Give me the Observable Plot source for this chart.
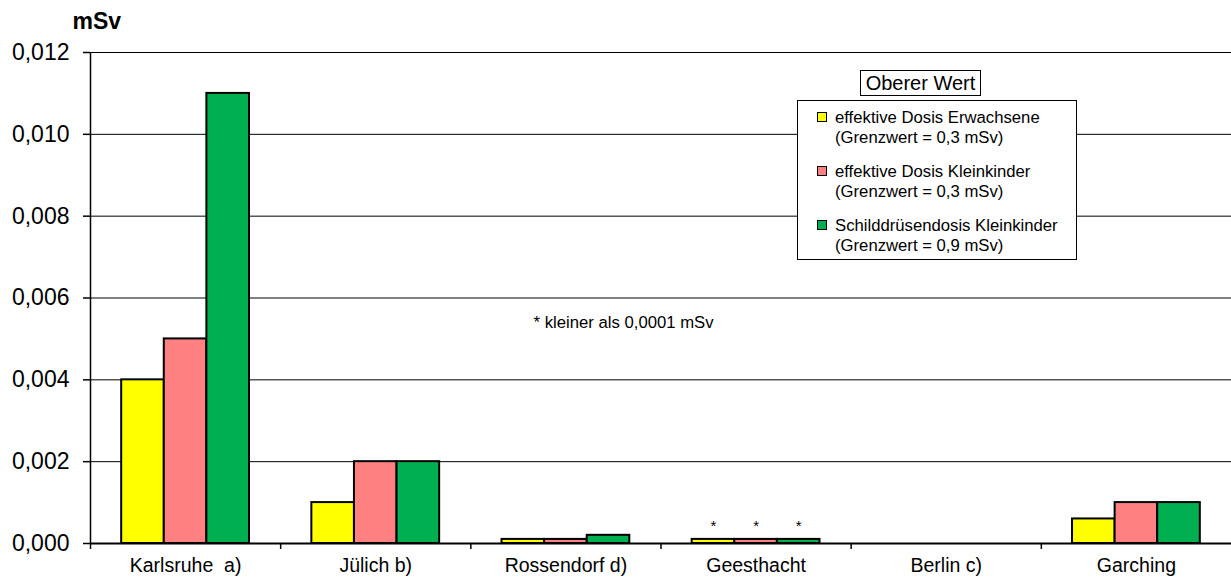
<!DOCTYPE html>
<html>
<head>
<meta charset="utf-8">
<script src="https://cdn.jsdelivr.net/npm/d3@7"></script>
<script src="https://cdn.jsdelivr.net/npm/@observablehq/plot@0.6"></script>
<style>
  html, body { margin: 0; padding: 0; background: white; }
  #wrap { position: relative; width: 1231px; height: 579px; font-family: "Liberation Sans", Arial, sans-serif; }
  svg text { white-space: pre; }
  .legend { position: absolute; left: 797px; top: 100px; width: 280px; height: 160px; border: 1px solid black; background: white; box-sizing: border-box; }
  .legend-title { position: absolute; left: 860px; top: 70px; width: 121px; height: 26px; border: 1px solid black; background: white; box-sizing: border-box; font-size: 20px; line-height: 24px; text-align: center; }
  .entry { position: absolute; left: 19px; font-size: 16.7px; line-height: 20px; }
  .sw { position: absolute; left: 0; top: 4px; width: 8px; height: 8px; border: 1.5px solid black; }
  .lab { margin-left: 18px; white-space: nowrap; }
</style>
</head>
<body>
<div id="wrap"></div>
<script>
// ---- data ----
const categories = ["Karlsruhe  a)", "Jülich b)", "Rossendorf d)", "Geesthacht", "Berlin c)", "Garching"];
const seriesNames = ["effektive Dosis Erwachsene", "effektive Dosis Kleinkinder", "Schilddrüsendosis Kleinkinder"];
const seriesLimits = ["(Grenzwert = 0,3 mSv)", "(Grenzwert = 0,3 mSv)", "(Grenzwert = 0,9 mSv)"];
const seriesColors = ["#FFFF00", "#FF8080", "#00B050"];
const erwachsene   = [0.004, 0.001, 0.0001, 0.0001, 0, 0.0006];
const kleinkinder  = [0.005, 0.002, 0.0001, 0.0001, 0, 0.001];
const schilddruese = [0.011, 0.002, 0.0002, 0.0001, 0, 0.001];
const belowLimit = ["Geesthacht"];
const yTicks = [0, 0.002, 0.004, 0.006, 0.008, 0.010, 0.012];
const legendTitle = "Oberer Wert";
const noteText = "* kleiner als 0,0001 mSv";
const noteX = 1.83, noteY = 0.0054;
const unitLabel = "mSv";

// ---- table ----
const seriesValues = [erwachsene, kleinkinder, schilddruese];
const barW = 0.224;
const table = [];
categories.forEach((c, i) => {
  seriesValues.forEach((vals, j) => {
    const x1 = i + (j - 1.5) * barW;
    table.push({category: c, series: seriesNames[j], x1, x2: x1 + barW, value: vals[i], color: seriesColors[j]});
  });
});

const font = "'Liberation Sans', Arial, sans-serif";
const fmt = v => d3.format(".3f")(v).replace(".", ",");
const n = categories.length;

const chart = Plot.plot({
  width: 1231,
  height: 579,
  marginLeft: 90,
  marginRight: 0,
  marginTop: 52,
  marginBottom: 36,
  style: {fontFamily: font, background: "white", color: "black", overflow: "visible"},
  x: {type: "linear", domain: [-0.5, n - 0.5]},
  y: {domain: [0, 0.012]},
  color: {type: "identity"},
  marks: [
    Plot.gridY({ticks: yTicks, stroke: "black", strokeOpacity: 1, strokeWidth: 1}),
    Plot.ruleX([-0.5], {y1: 0, y2: 0.012, stroke: "black", strokeWidth: 1.5}),
    Plot.rect(table.filter(d => d.value > 0), {x1: "x1", x2: "x2", y1: 0, y2: "value", fill: "color", stroke: "black", strokeWidth: 2}),
    Plot.ruleY([0], {stroke: "black", strokeWidth: 2}),
    Plot.axisY({ticks: yTicks, tickFormat: fmt, tickSize: 7, tickPadding: 14, fontSize: 23, label: null, stroke: "black", strokeWidth: 1.5}),
    Plot.axisX({ticks: d3.range(n), tickFormat: i => categories[i], tickSize: 0, tickPadding: 15, fontSize: 19.5, label: null}),
    Plot.axisX({ticks: d3.range(n).map(i => i - 0.5), tickFormat: () => "", tickSize: 6, label: null, stroke: "black", strokeWidth: 1.5}),
    Plot.text(table.filter(d => belowLimit.includes(d.category)), {x: d => (d.x1 + d.x2) / 2, y: "value", text: () => "*", dy: -8, lineAnchor: "bottom", fontSize: 15, fill: "black"}),
    Plot.text([{x: noteX, y: noteY, t: noteText}], {x: "x", y: "y", text: "t", textAnchor: "start", fontSize: 16.7, fill: "black"}),
    Plot.text([unitLabel], {text: d => d, frameAnchor: "top-left", dx: -18, dy: -31, textAnchor: "start", lineAnchor: "middle", fontWeight: "bold", fontSize: 23, fill: "black"})
  ]
});

const wrap = document.getElementById("wrap");
wrap.appendChild(chart);

const lt = document.createElement("div");
lt.className = "legend-title";
lt.textContent = legendTitle;
wrap.appendChild(lt);

const lg = document.createElement("div");
lg.className = "legend";
seriesNames.forEach((name, j) => {
  const e = document.createElement("div");
  e.className = "entry";
  e.style.top = (7 + j * 54) + "px";
  const sw = document.createElement("div");
  sw.className = "sw";
  sw.style.background = seriesColors[j];
  e.appendChild(sw);
  const l1 = document.createElement("div");
  l1.className = "lab";
  l1.textContent = name;
  const l2 = document.createElement("div");
  l2.className = "lab";
  l2.textContent = seriesLimits[j];
  e.appendChild(l1);
  e.appendChild(l2);
  lg.appendChild(e);
});
wrap.appendChild(lg);
</script>
</body>
</html>
